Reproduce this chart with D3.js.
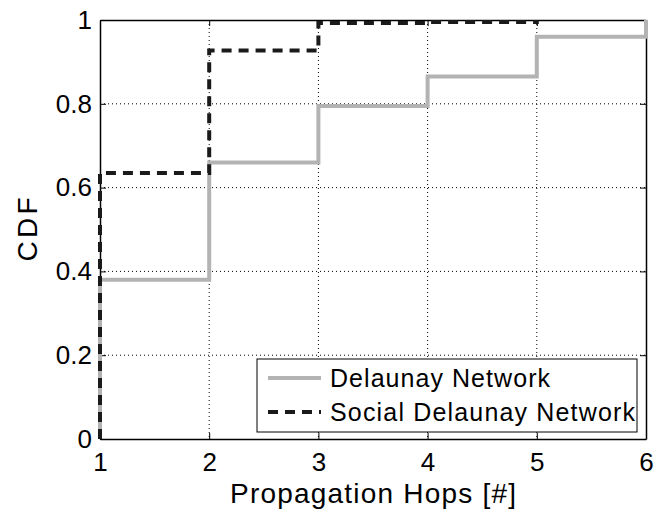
<!DOCTYPE html>
<html>
<head>
<meta charset="utf-8">
<script src="https://cdn.jsdelivr.net/npm/d3@7"></script>
<style>
  body { margin: 0; background: #fff; }
  text { font-family: "Liberation Sans", Arial, sans-serif; fill: #000; }
</style>
</head>
<body>
<div id="container"></div>
<script>
// Données
const delaunayHops = [1, 2, 3, 4, 5, 6];
const delaunayCdf = [0.38, 0.66, 0.795, 0.865, 0.96, 1.0];
const socialHops = [1, 2, 3, 4, 5];
const socialCdf = [0.635, 0.927, 0.993, 0.995, 1.0];
const xTicks = [1, 2, 3, 4, 5, 6];
const yTicks = [0, 0.2, 0.4, 0.6, 0.8, 1];
const seriesNames = ["Delaunay Network", "Social Delaunay Network"];

const main = (container) => {
  const margin = { top: 20, right: 8, bottom: 74, left: 100 };
  const width = 654 - margin.left - margin.right;
  const height = 513 - margin.top - margin.bottom;

  const svg = d3.select(container)
    .append("svg")
    .attr("width", 654)
    .attr("height", 513);

  const g = svg.append("g")
    .attr("transform", `translate(${margin.left},${margin.top})`);

  // Échelles
  const x = d3.scaleLinear().domain([1, 6]).range([0, width]);
  const y = d3.scaleLinear().domain([0, 1]).range([height, 0]);

  // Grille pointillée
  g.append("g")
    .selectAll("line")
    .data(xTicks.slice(1, -1))
    .join("line")
    .attr("x1", d => x(d)).attr("x2", d => x(d))
    .attr("y1", 0).attr("y2", height)
    .attr("stroke", "#000")
    .attr("stroke-width", 1)
    .attr("stroke-dasharray", "1,3");

  g.append("g")
    .selectAll("line")
    .data(yTicks.slice(1, -1))
    .join("line")
    .attr("x1", 0).attr("x2", width)
    .attr("y1", d => y(d)).attr("y2", d => y(d))
    .attr("stroke", "#000")
    .attr("stroke-width", 1)
    .attr("stroke-dasharray", "1,3");

  // Axes (ticks vers l'intérieur)
  const xAxis = g.append("g")
    .attr("transform", `translate(0,${height})`)
    .call(d3.axisBottom(x).tickValues(xTicks).tickSizeInner(-6).tickSizeOuter(0).tickPadding(14).tickFormat(d3.format("d")));
  const yAxis = g.append("g")
    .call(d3.axisLeft(y).tickValues(yTicks).tickSizeInner(-6).tickSizeOuter(0).tickPadding(8).tickFormat(d => d === 0 || d === 1 ? d : d3.format(".1f")(d)));
  const xTop = g.append("g")
    .call(d3.axisTop(x).tickValues(xTicks).tickSizeInner(-6).tickSizeOuter(0).tickFormat(""));
  const yRight = g.append("g")
    .attr("transform", `translate(${width},0)`)
    .call(d3.axisRight(y).tickValues(yTicks).tickSizeInner(-6).tickSizeOuter(0).tickFormat(""));

  [xAxis, yAxis, xTop, yRight].forEach(a => {
    a.select(".domain").attr("stroke", "#000").attr("stroke-width", 1.5);
    a.selectAll(".tick line").attr("stroke", "#000").attr("stroke-width", 1);
  });
  xAxis.selectAll("text").style("font-size", "26px").attr("dy", "0.69em");
  yAxis.selectAll("text").style("font-size", "26px");

  // Courbes CDF en escalier
  const line = d3.line()
    .x(d => x(d[0]))
    .y(d => y(d[1]))
    .curve(d3.curveStepAfter);

  const delaunayPts = [[delaunayHops[0], 0]].concat(delaunayHops.map((h, i) => [h, delaunayCdf[i]]));
  const socialPts = [[socialHops[0], 0]].concat(socialHops.map((h, i) => [h, socialCdf[i]]));

  g.append("path")
    .datum(delaunayPts)
    .attr("d", line)
    .attr("fill", "none")
    .attr("stroke", "#b3b3b3")
    .attr("stroke-width", 4);

  g.append("path")
    .datum(socialPts)
    .attr("d", line)
    .attr("fill", "none")
    .attr("stroke", "#1a1a1a")
    .attr("stroke-width", 4)
    .attr("stroke-dasharray", "10,7");

  // Titres des axes
  svg.append("text")
    .attr("x", margin.left + width / 2)
    .attr("y", 503)
    .attr("text-anchor", "middle")
    .attr("textLength", 286)
    .attr("lengthAdjust", "spacing")
    .style("font-size", "28px")
    .text("Propagation Hops [#]");

  svg.append("text")
    .attr("transform", `translate(37,${margin.top + height / 2}) rotate(-90)`)
    .attr("text-anchor", "middle")
    .attr("textLength", 64)
    .attr("lengthAdjust", "spacing")
    .style("font-size", "28px")
    .text("CDF");

  // Légende
  const legend = svg.append("g").attr("transform", "translate(257,359)");
  legend.append("rect")
    .attr("width", 380).attr("height", 73)
    .attr("fill", "#fff")
    .attr("stroke", "#000")
    .attr("stroke-width", 1);

  const styles = [
    { color: "#b3b3b3", dash: null, len: 220 },
    { color: "#1a1a1a", dash: "10,7", len: 305 }
  ];
  const rows = legend.selectAll(".row")
    .data(seriesNames)
    .join("g")
    .attr("class", "row")
    .attr("transform", (d, i) => `translate(0,${19 + i * 34})`);

  rows.append("line")
    .attr("x1", 11).attr("x2", 64)
    .attr("stroke", (d, i) => styles[i].color)
    .attr("stroke-width", 4)
    .attr("stroke-dasharray", (d, i) => styles[i].dash);

  rows.append("text")
    .attr("x", 73)
    .attr("dy", "0.36em")
    .attr("textLength", (d, i) => styles[i].len)
    .attr("lengthAdjust", "spacing")
    .style("font-size", "25px")
    .text(d => d);
};

main(document.getElementById("container"));
</script>
</body>
</html>
